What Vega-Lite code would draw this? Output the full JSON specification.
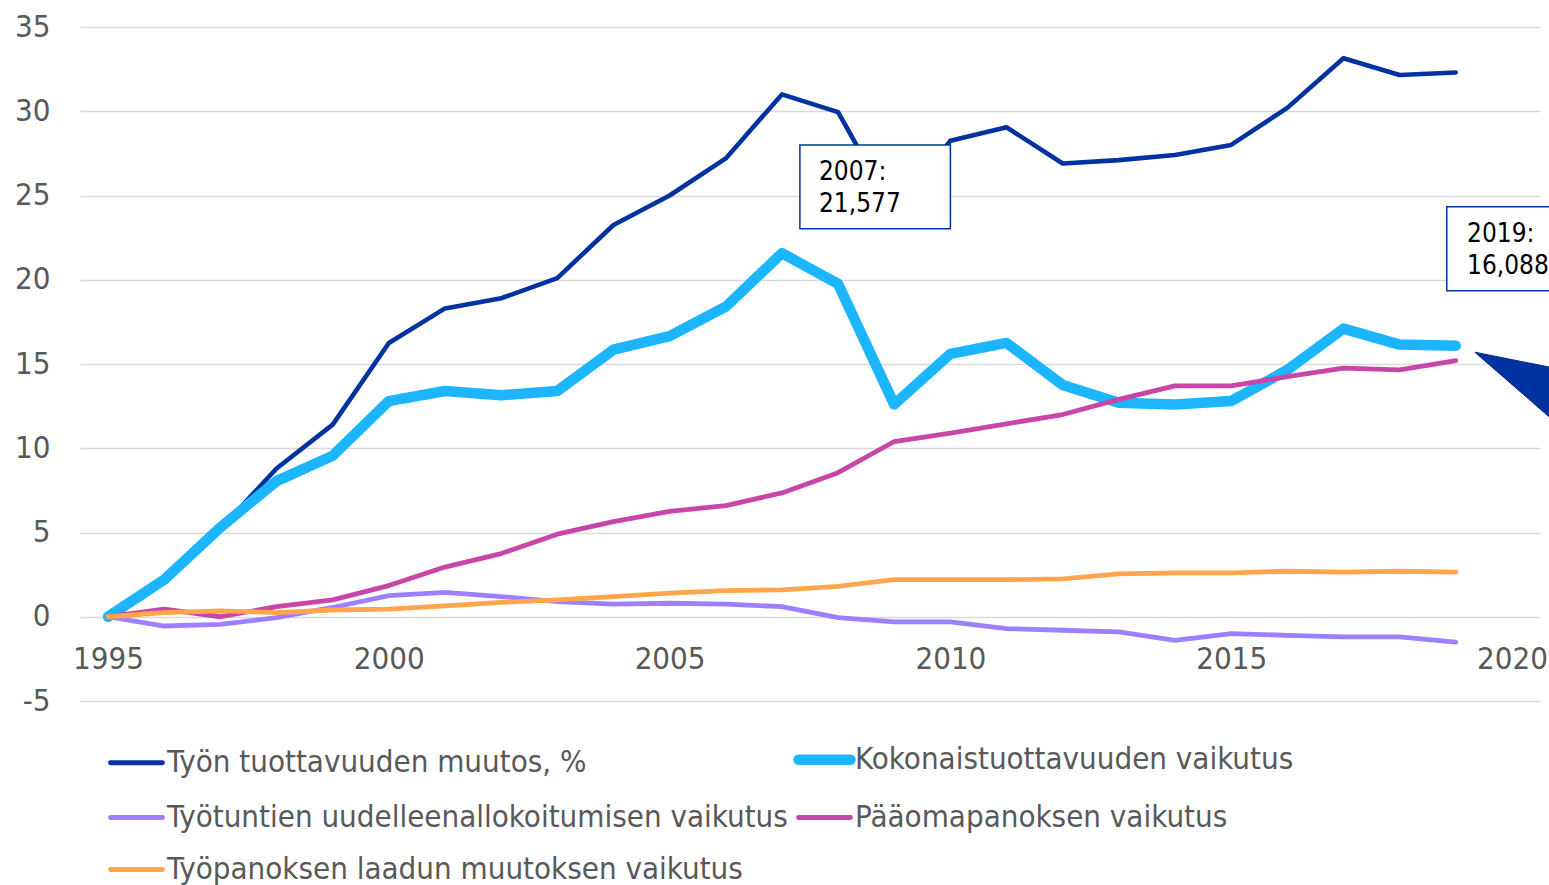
{
 "$schema": "https://vega.github.io/schema/vega-lite/v6.json",
 "width": 1460, "height": 674,
 "autosize": {"type": "none"},
 "padding": {"left": 80, "top": 27, "right": 9, "bottom": 184},
 "config": {"font": "DejaVu Sans Condensed", "view": {"stroke": null}},
 "datasets": {
  "lines": [
   {"year":1995,"series":"Työn tuottavuuden muutos, %","value":0},
   {"year":1996,"series":"Työn tuottavuuden muutos, %","value":2.1},
   {"year":1997,"series":"Työn tuottavuuden muutos, %","value":5.2},
   {"year":1998,"series":"Työn tuottavuuden muutos, %","value":8.8},
   {"year":1999,"series":"Työn tuottavuuden muutos, %","value":11.4},
   {"year":2000,"series":"Työn tuottavuuden muutos, %","value":16.25},
   {"year":2001,"series":"Työn tuottavuuden muutos, %","value":18.3},
   {"year":2002,"series":"Työn tuottavuuden muutos, %","value":18.9},
   {"year":2003,"series":"Työn tuottavuuden muutos, %","value":20.1},
   {"year":2004,"series":"Työn tuottavuuden muutos, %","value":23.25},
   {"year":2005,"series":"Työn tuottavuuden muutos, %","value":25.0},
   {"year":2006,"series":"Työn tuottavuuden muutos, %","value":27.2},
   {"year":2007,"series":"Työn tuottavuuden muutos, %","value":31.0},
   {"year":2008,"series":"Työn tuottavuuden muutos, %","value":29.95},
   {"year":2009,"series":"Työn tuottavuuden muutos, %","value":24.0},
   {"year":2010,"series":"Työn tuottavuuden muutos, %","value":28.25},
   {"year":2011,"series":"Työn tuottavuuden muutos, %","value":29.05},
   {"year":2012,"series":"Työn tuottavuuden muutos, %","value":26.9},
   {"year":2013,"series":"Työn tuottavuuden muutos, %","value":27.1},
   {"year":2014,"series":"Työn tuottavuuden muutos, %","value":27.4},
   {"year":2015,"series":"Työn tuottavuuden muutos, %","value":28.0},
   {"year":2016,"series":"Työn tuottavuuden muutos, %","value":30.2},
   {"year":2017,"series":"Työn tuottavuuden muutos, %","value":33.15},
   {"year":2018,"series":"Työn tuottavuuden muutos, %","value":32.15},
   {"year":2019,"series":"Työn tuottavuuden muutos, %","value":32.3},
   {"year":1995,"series":"Kokonaistuottavuuden vaikutus","value":0},
   {"year":1996,"series":"Kokonaistuottavuuden vaikutus","value":2.2},
   {"year":1997,"series":"Kokonaistuottavuuden vaikutus","value":5.3},
   {"year":1998,"series":"Kokonaistuottavuuden vaikutus","value":8.05},
   {"year":1999,"series":"Kokonaistuottavuuden vaikutus","value":9.55},
   {"year":2000,"series":"Kokonaistuottavuuden vaikutus","value":12.8},
   {"year":2001,"series":"Kokonaistuottavuuden vaikutus","value":13.4},
   {"year":2002,"series":"Kokonaistuottavuuden vaikutus","value":13.15},
   {"year":2003,"series":"Kokonaistuottavuuden vaikutus","value":13.4},
   {"year":2004,"series":"Kokonaistuottavuuden vaikutus","value":15.85},
   {"year":2005,"series":"Kokonaistuottavuuden vaikutus","value":16.65},
   {"year":2006,"series":"Kokonaistuottavuuden vaikutus","value":18.4},
   {"year":2007,"series":"Kokonaistuottavuuden vaikutus","value":21.577},
   {"year":2008,"series":"Kokonaistuottavuuden vaikutus","value":19.75},
   {"year":2009,"series":"Kokonaistuottavuuden vaikutus","value":12.6},
   {"year":2010,"series":"Kokonaistuottavuuden vaikutus","value":15.6},
   {"year":2011,"series":"Kokonaistuottavuuden vaikutus","value":16.25},
   {"year":2012,"series":"Kokonaistuottavuuden vaikutus","value":13.75},
   {"year":2013,"series":"Kokonaistuottavuuden vaikutus","value":12.7},
   {"year":2014,"series":"Kokonaistuottavuuden vaikutus","value":12.6},
   {"year":2015,"series":"Kokonaistuottavuuden vaikutus","value":12.8},
   {"year":2016,"series":"Kokonaistuottavuuden vaikutus","value":14.65},
   {"year":2017,"series":"Kokonaistuottavuuden vaikutus","value":17.1},
   {"year":2018,"series":"Kokonaistuottavuuden vaikutus","value":16.15},
   {"year":2019,"series":"Kokonaistuottavuuden vaikutus","value":16.088},
   {"year":1995,"series":"Työtuntien uudelleenallokoitumisen vaikutus","value":0},
   {"year":1996,"series":"Työtuntien uudelleenallokoitumisen vaikutus","value":-0.55},
   {"year":1997,"series":"Työtuntien uudelleenallokoitumisen vaikutus","value":-0.45},
   {"year":1998,"series":"Työtuntien uudelleenallokoitumisen vaikutus","value":-0.05},
   {"year":1999,"series":"Työtuntien uudelleenallokoitumisen vaikutus","value":0.55},
   {"year":2000,"series":"Työtuntien uudelleenallokoitumisen vaikutus","value":1.25},
   {"year":2001,"series":"Työtuntien uudelleenallokoitumisen vaikutus","value":1.45},
   {"year":2002,"series":"Työtuntien uudelleenallokoitumisen vaikutus","value":1.2},
   {"year":2003,"series":"Työtuntien uudelleenallokoitumisen vaikutus","value":0.9},
   {"year":2004,"series":"Työtuntien uudelleenallokoitumisen vaikutus","value":0.75},
   {"year":2005,"series":"Työtuntien uudelleenallokoitumisen vaikutus","value":0.8},
   {"year":2006,"series":"Työtuntien uudelleenallokoitumisen vaikutus","value":0.75},
   {"year":2007,"series":"Työtuntien uudelleenallokoitumisen vaikutus","value":0.6},
   {"year":2008,"series":"Työtuntien uudelleenallokoitumisen vaikutus","value":-0.05},
   {"year":2009,"series":"Työtuntien uudelleenallokoitumisen vaikutus","value":-0.3},
   {"year":2010,"series":"Työtuntien uudelleenallokoitumisen vaikutus","value":-0.3},
   {"year":2011,"series":"Työtuntien uudelleenallokoitumisen vaikutus","value":-0.7},
   {"year":2012,"series":"Työtuntien uudelleenallokoitumisen vaikutus","value":-0.8},
   {"year":2013,"series":"Työtuntien uudelleenallokoitumisen vaikutus","value":-0.9},
   {"year":2014,"series":"Työtuntien uudelleenallokoitumisen vaikutus","value":-1.4},
   {"year":2015,"series":"Työtuntien uudelleenallokoitumisen vaikutus","value":-1.0},
   {"year":2016,"series":"Työtuntien uudelleenallokoitumisen vaikutus","value":-1.1},
   {"year":2017,"series":"Työtuntien uudelleenallokoitumisen vaikutus","value":-1.2},
   {"year":2018,"series":"Työtuntien uudelleenallokoitumisen vaikutus","value":-1.2},
   {"year":2019,"series":"Työtuntien uudelleenallokoitumisen vaikutus","value":-1.5},
   {"year":1995,"series":"Pääomapanoksen vaikutus","value":0},
   {"year":1996,"series":"Pääomapanoksen vaikutus","value":0.45},
   {"year":1997,"series":"Pääomapanoksen vaikutus","value":0.0},
   {"year":1998,"series":"Pääomapanoksen vaikutus","value":0.6},
   {"year":1999,"series":"Pääomapanoksen vaikutus","value":1.0},
   {"year":2000,"series":"Pääomapanoksen vaikutus","value":1.85},
   {"year":2001,"series":"Pääomapanoksen vaikutus","value":2.95},
   {"year":2002,"series":"Pääomapanoksen vaikutus","value":3.75},
   {"year":2003,"series":"Pääomapanoksen vaikutus","value":4.9},
   {"year":2004,"series":"Pääomapanoksen vaikutus","value":5.65},
   {"year":2005,"series":"Pääomapanoksen vaikutus","value":6.25},
   {"year":2006,"series":"Pääomapanoksen vaikutus","value":6.6},
   {"year":2007,"series":"Pääomapanoksen vaikutus","value":7.35},
   {"year":2008,"series":"Pääomapanoksen vaikutus","value":8.55},
   {"year":2009,"series":"Pääomapanoksen vaikutus","value":10.4},
   {"year":2010,"series":"Pääomapanoksen vaikutus","value":10.9},
   {"year":2011,"series":"Pääomapanoksen vaikutus","value":11.45},
   {"year":2012,"series":"Pääomapanoksen vaikutus","value":12.0},
   {"year":2013,"series":"Pääomapanoksen vaikutus","value":12.9},
   {"year":2014,"series":"Pääomapanoksen vaikutus","value":13.7},
   {"year":2015,"series":"Pääomapanoksen vaikutus","value":13.7},
   {"year":2016,"series":"Pääomapanoksen vaikutus","value":14.25},
   {"year":2017,"series":"Pääomapanoksen vaikutus","value":14.75},
   {"year":2018,"series":"Pääomapanoksen vaikutus","value":14.65},
   {"year":2019,"series":"Pääomapanoksen vaikutus","value":15.2},
   {"year":1995,"series":"Työpanoksen laadun muutoksen vaikutus","value":0},
   {"year":1996,"series":"Työpanoksen laadun muutoksen vaikutus","value":0.25},
   {"year":1997,"series":"Työpanoksen laadun muutoksen vaikutus","value":0.35},
   {"year":1998,"series":"Työpanoksen laadun muutoksen vaikutus","value":0.25},
   {"year":1999,"series":"Työpanoksen laadun muutoksen vaikutus","value":0.4},
   {"year":2000,"series":"Työpanoksen laadun muutoksen vaikutus","value":0.45},
   {"year":2001,"series":"Työpanoksen laadun muutoksen vaikutus","value":0.65},
   {"year":2002,"series":"Työpanoksen laadun muutoksen vaikutus","value":0.85},
   {"year":2003,"series":"Työpanoksen laadun muutoksen vaikutus","value":1.0},
   {"year":2004,"series":"Työpanoksen laadun muutoksen vaikutus","value":1.2},
   {"year":2005,"series":"Työpanoksen laadun muutoksen vaikutus","value":1.4},
   {"year":2006,"series":"Työpanoksen laadun muutoksen vaikutus","value":1.55},
   {"year":2007,"series":"Työpanoksen laadun muutoksen vaikutus","value":1.6},
   {"year":2008,"series":"Työpanoksen laadun muutoksen vaikutus","value":1.8},
   {"year":2009,"series":"Työpanoksen laadun muutoksen vaikutus","value":2.2},
   {"year":2010,"series":"Työpanoksen laadun muutoksen vaikutus","value":2.2},
   {"year":2011,"series":"Työpanoksen laadun muutoksen vaikutus","value":2.2},
   {"year":2012,"series":"Työpanoksen laadun muutoksen vaikutus","value":2.25},
   {"year":2013,"series":"Työpanoksen laadun muutoksen vaikutus","value":2.55},
   {"year":2014,"series":"Työpanoksen laadun muutoksen vaikutus","value":2.6},
   {"year":2015,"series":"Työpanoksen laadun muutoksen vaikutus","value":2.6},
   {"year":2016,"series":"Työpanoksen laadun muutoksen vaikutus","value":2.7},
   {"year":2017,"series":"Työpanoksen laadun muutoksen vaikutus","value":2.65},
   {"year":2018,"series":"Työpanoksen laadun muutoksen vaikutus","value":2.7},
   {"year":2019,"series":"Työpanoksen laadun muutoksen vaikutus","value":2.65}
  ],
  "boxes": [
   {"x1": 2007.32, "x2": 2010.0, "y1": 23.03, "y2": 28.0},
   {"x1": 2018.84, "x2": 2021.2, "y1": 19.35, "y2": 24.33}
  ],
  "labels": [
   {"tx": 2007.66, "ty": 27.15, "label": "2007:\n21,577"},
   {"tx": 2019.2, "ty": 23.5, "label": "2019:\n16,088"}
  ],
  "pointer": [
   {"px": 2019.34, "py": 15.7}
  ]
 },
 "layer": [
  {
   "data": {"name": "lines"},
   "encoding": {
    "x": {"field": "year", "type": "quantitative",
     "scale": {"domain": [1994.5, 2020.5], "nice": false, "zero": false},
     "axis": {"values": [1995, 2000, 2005, 2010, 2015, 2020], "format": "d", "grid": false, "domain": false, "ticks": false,
      "labelFontSize": 31, "labelColor": "#595959", "labelFlush": false, "offset": -84, "labelPadding": 27, "title": null}},
    "y": {"field": "value", "type": "quantitative",
     "scale": {"domain": [-5, 35], "nice": false},
     "axis": {"values": [-5, 0, 5, 10, 15, 20, 25, 30, 35], "labelExpr": "'' + datum.value", "grid": true, "gridColor": "#d9d9d9", "gridWidth": 1.5,
      "domain": false, "ticks": false, "labelFontSize": 31, "labelColor": "#595959", "labelPadding": 30, "title": null}},
    "color": {"field": "series", "type": "nominal",
     "scale": {"domain": ["Työn tuottavuuden muutos, %", "Työtuntien uudelleenallokoitumisen vaikutus", "Työpanoksen laadun muutoksen vaikutus", "Kokonaistuottavuuden vaikutus", "Pääomapanoksen vaikutus"],
      "range": ["#0033a0", "#9d80ff", "#ffa64d", "#1cb5ff", "#c846a8"]},
     "legend": {"orient": "none", "legendX": 41, "legendY": 717, "columns": 2, "symbolType": "stroke", "symbolSize": 2704, "symbolStrokeWidth": 4.8,
      "labelFontSize": 31, "labelColor": "#595959", "labelOffset": 15, "columnPadding": -11, "rowPadding": 20, "padding": 0, "title": null, "labelLimit": 1000,
      "encode": {"symbols": {"update": {"strokeWidth": {"signal": "datum.value === 'Kokonaistuottavuuden vaikutus' ? 10.5 : 4.8"}, "strokeCap": {"value": "round"}}}}}}
   },
   "layer": [
    {"transform": [{"filter": "datum.series === 'Työn tuottavuuden muutos, %'"}], "mark": {"type": "line", "strokeWidth": 4.6, "strokeCap": "round", "strokeJoin": "round"}},
    {"transform": [{"filter": "datum.series === 'Kokonaistuottavuuden vaikutus'"}], "mark": {"type": "line", "strokeWidth": 10.5, "strokeCap": "round", "strokeJoin": "round"}},
    {"transform": [{"filter": "datum.series === 'Työtuntien uudelleenallokoitumisen vaikutus'"}], "mark": {"type": "line", "strokeWidth": 4.8, "strokeCap": "round", "strokeJoin": "round"}},
    {"transform": [{"filter": "datum.series === 'Pääomapanoksen vaikutus'"}], "mark": {"type": "line", "strokeWidth": 4.8, "strokeCap": "round", "strokeJoin": "round"}},
    {"transform": [{"filter": "datum.series === 'Työpanoksen laadun muutoksen vaikutus'"}], "mark": {"type": "line", "strokeWidth": 4.8, "strokeCap": "round", "strokeJoin": "round"}}
   ]
  },
  {
   "data": {"name": "boxes"},
   "mark": {"type": "rect", "fill": "white", "stroke": "#0033a0", "strokeWidth": 1.5},
   "encoding": {
    "x": {"field": "x1", "type": "quantitative"},
    "x2": {"field": "x2"},
    "y": {"field": "y1", "type": "quantitative"},
    "y2": {"field": "y2"}
   }
  },
  {
   "data": {"name": "labels"},
   "mark": {"type": "text", "align": "left", "baseline": "top", "fontSize": 26, "lineHeight": 32, "lineBreak": "\n", "color": "black"},
   "encoding": {
    "x": {"field": "tx", "type": "quantitative"},
    "y": {"field": "ty", "type": "quantitative"},
    "text": {"field": "label"}
   }
  },
  {
   "data": {"name": "pointer"},
   "mark": {"type": "point", "shape": "M0,0 L1,0.2 L1,0.87 Z", "size": 40000, "filled": true, "fill": "#0033a0", "stroke": "#002a85", "strokeWidth": 1, "opacity": 1},
   "encoding": {
    "x": {"field": "px", "type": "quantitative"},
    "y": {"field": "py", "type": "quantitative"}
   }
  }
 ]
}
